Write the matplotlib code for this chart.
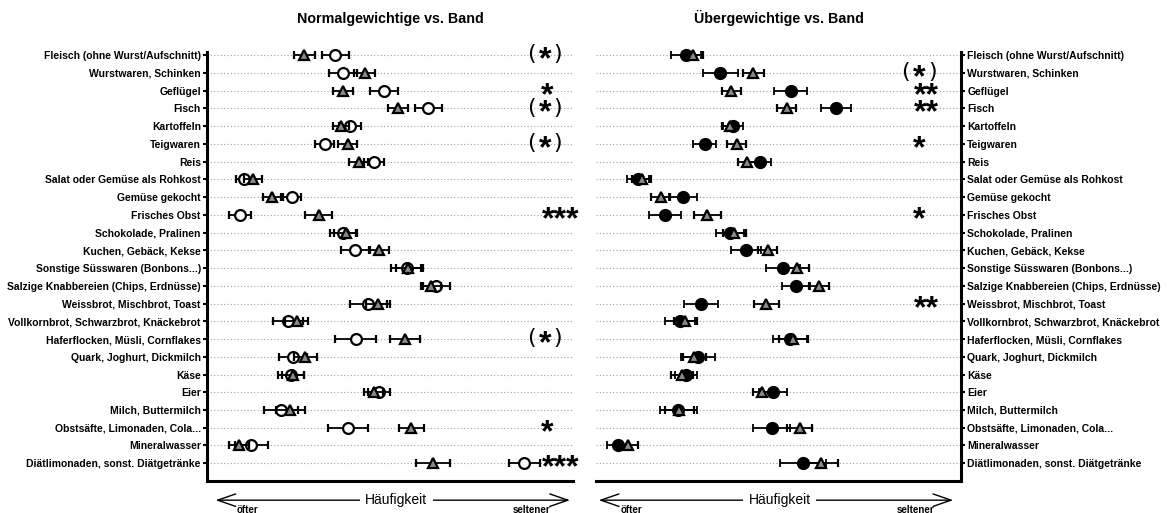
import matplotlib.pyplot as plt
from matplotlib.patches import FancyArrowPatch
import numpy as np

plt.rcParams['font.family'] = ['Liberation Sans', 'DejaVu Sans']

lebensmittel = [
    'Fleisch (ohne Wurst/Aufschnitt)', 'Wurstwaren, Schinken', 'Geflügel', 'Fisch',
    'Kartoffeln', 'Teigwaren', 'Reis', 'Salat oder Gemüse als Rohkost',
    'Gemüse gekocht', 'Frisches Obst', 'Schokolade, Pralinen', 'Kuchen, Gebäck, Kekse',
    'Sonstige Süsswaren (Bonbons...)', 'Salzige Knabbereien (Chips, Erdnüsse)',
    'Weissbrot, Mischbrot, Toast', 'Vollkornbrot, Schwarzbrot, Knäckebrot',
    'Haferflocken, Müsli, Cornflakes', 'Quark, Joghurt, Dickmilch', 'Käse', 'Eier',
    'Milch, Buttermilch', 'Obstsäfte, Limonaden, Cola...', 'Mineralwasser',
    'Diätlimonaden, sonst. Diätgetränke',
]

# Mittelwerte (Häufigkeitsskala, klein = öfter) und halbe Fehlerbalken
band_mw = [26.6, 43.1, 37.1, 52.2, 36.7, 38.5, 41.5, 12.5, 17.7, 30.5, 37.9, 47.0,
           55.0, 61.1, 46.7, 24.5, 54.1, 26.9, 23.6, 45.6, 22.8, 55.8, 8.7, 61.7]
band_err = [2.8, 2.9, 2.7, 2.7, 2.2, 2.6, 2.6, 2.5, 2.5, 3.7, 3.1, 2.6,
            3.4, 2.7, 3.3, 3.1, 4.0, 3.2, 3.0, 2.6, 4.0, 3.4, 2.8, 4.6]

normal_mw = [35.1, 37.2, 48.3, 60.5, 39.1, 32.1, 45.6, 10.2, 23.2, 9.0, 37.2, 40.4,
             54.6, 62.7, 44.1, 22.1, 40.7, 23.6, 22.9, 47.0, 20.3, 38.6, 12.1, 86.7]
normal_err = [3.7, 3.8, 3.8, 3.7, 3.0, 2.6, 2.7, 2.2, 2.5, 2.9, 3.6, 3.8,
              4.4, 3.6, 5.1, 4.1, 5.6, 3.8, 3.5, 3.1, 4.6, 5.5, 4.5, 4.3]

ueber_mw = [24.7, 34.1, 53.4, 65.7, 37.5, 29.8, 44.8, 11.5, 23.8, 19.0, 36.7, 41.1,
            51.2, 54.8, 28.7, 23.1, 53.1, 27.9, 24.7, 48.4, 22.6, 48.1, 5.9, 56.8]
ueber_err = [4.1, 4.9, 4.5, 4.1, 2.7, 3.2, 3.1, 3.0, 3.8, 4.4, 3.8, 4.1,
             4.6, 3.8, 4.7, 4.1, 4.7, 4.7, 3.0, 3.8, 5.1, 5.1, 2.8, 6.3]

# Signifikanzen je Zeile
sig_normal = {0: '(*)', 2: '*', 3: '(*)', 5: '(*)', 9: '***', 16: '(*)', 21: '*', 23: '***'}
sig_ueber = {1: '(*)', 2: '**', 3: '**', 5: '*', 9: '*', 14: '**'}

y = np.arange(len(lebensmittel))

fig = plt.figure(figsize=(11.67, 5.13), dpi=100)
ax1 = fig.add_axes([0.1774, 0.0624, 0.3136, 0.8649])
ax2 = fig.add_axes([0.5107, 0.0624, 0.3128, 0.8649])

eb = dict(ls='none', ecolor='black', elinewidth=1.3, capsize=3.2, capthick=1.3)


def sterne(ax, x, zeile, zeichen):
    # Sterne sitzen im Font hoch, daher Grundlinie nach unten versetzen
    kern = zeichen.strip('()')
    ax.annotate(kern, (x, zeile), xytext=(0, -9.6), textcoords='offset points',
                ha='center', va='baseline', fontsize=23, fontweight='bold', zorder=5)
    if zeichen.startswith('('):
        for c, dx in [('(', -9.5), (')', 9.5)]:
            ax.annotate(c, (x, zeile), xytext=(dx, 0.5), textcoords='offset points',
                        ha='center', va='center', fontsize=16, family='DejaVu Sans', zorder=5)


def panel(ax, mw, err, gefuellt, titel, sig, sig_x, rechts):
    ax.set_xlim(0, 100)
    ax.set_ylim(24, -1)
    ax.set_yticks(y)
    ax.set_yticklabels(lebensmittel, fontsize=7.45, fontweight='bold')
    ax.set_xticks([])
    ax.grid(axis='y', color='#a0a0a0', ls=(0, (1, 2)), lw=0.8)
    ax.set_axisbelow(True)
    for s in ['top', 'right', 'left', 'bottom']:
        ax.spines[s].set_visible(False)
    seite = 'right' if rechts else 'left'
    ax.spines[seite].set_visible(True)
    ax.spines[seite].set_bounds(-0.15, 24)
    ax.spines[seite].set_linewidth(2.2)
    ax.spines['bottom'].set_visible(True)
    ax.spines['bottom'].set_linewidth(2.2)
    if rechts:
        ax.yaxis.tick_right()
    ax.tick_params(axis='y', length=3, width=1.5, pad=1.5)

    if gefuellt:
        ax.errorbar(mw, y, xerr=err, marker='o', ms=8.5, mfc='black', mec='black', **eb, zorder=3)
    else:
        ax.errorbar(mw, y, xerr=err, marker='o', ms=7.8, mfc='white', mec='black', mew=1.6, **eb, zorder=3)
    ax.errorbar(band_mw, y, xerr=band_err, marker='^', ms=6.8, mfc='#8a8a8a', mec='black',
                mew=1.6, **eb, zorder=4)

    for i, t in sig.items():
        sterne(ax, sig_x[t], i, t)
    ax.set_title(titel, fontsize=10.3, fontweight='bold', pad=10)


panel(ax1, normal_mw, normal_err, False, 'Normalgewichtige vs. Band', sig_normal,
      {'(*)': 92.3, '*': 93.0, '***': 96.5}, False)
panel(ax2, ueber_mw, ueber_err, True, 'Übergewichtige vs. Band', sig_ueber,
      {'(*)': 88.5, '*': 88.5, '**': 90.4}, True)

# Häufigkeits-Pfeile unter den Panels
for x0, x1 in [(0.1823, 0.4908), (0.5107, 0.8192)]:
    fig.add_artist(FancyArrowPatch(
        (x0, 0.025), (x1, 0.025), transform=fig.transFigure,
        arrowstyle='<->,head_length=13,head_width=4.5', lw=1.0, color='black',
        mutation_scale=1))
    xm = (x0 + x1) / 2 + 0.003
    fig.text(xm, 0.025, 'Häufigkeit', ha='center', va='center', fontsize=10,
             bbox=dict(fc='white', ec='none', pad=4))
    fig.text(x0 + 0.03, 0.006, 'öfter', ha='center', va='center', fontsize=7, fontweight='bold')
    fig.text(x1 - 0.035, 0.006, 'seltener', ha='center', va='center', fontsize=7, fontweight='bold')

fig.savefig('out.png', dpi=100)
